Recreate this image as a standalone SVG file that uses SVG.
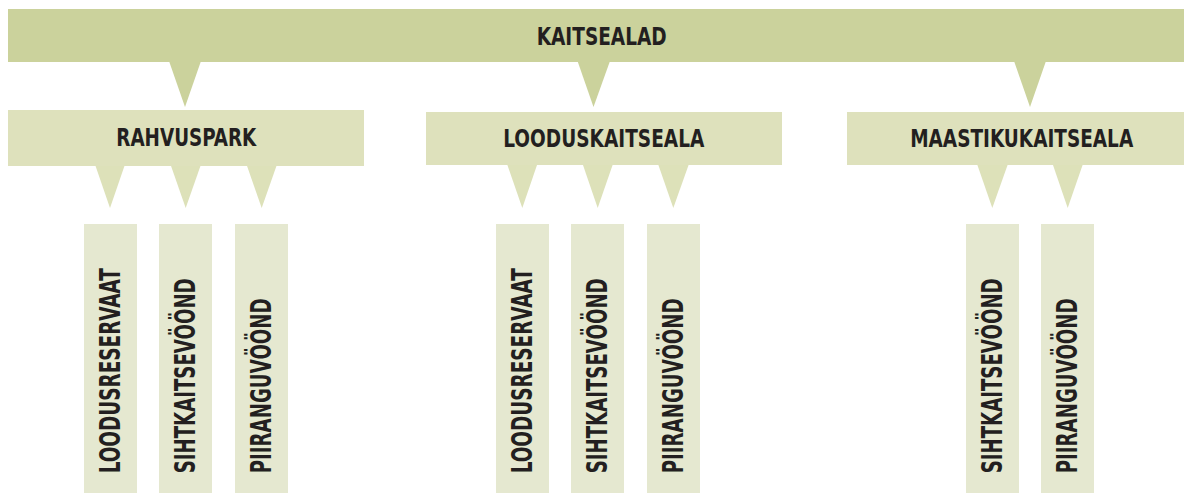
<svg xmlns="http://www.w3.org/2000/svg" width="1184" height="493" viewBox="0 0 1184 493">
<style>
.l0{fill:#cbd29c}
.l1{fill:#dee1bc}
.l2{fill:#e5e8d0}
.t1{fill:#dde1b9}
text{font-family:"Liberation Sans Narrow","DejaVu Sans Condensed","Liberation Sans",sans-serif;font-weight:bold;fill:#231f20;font-size:24px}
.v{font-size:28px}
</style>
<rect width="1184" height="493" fill="#ffffff"/>
<g id="connectors">
<polygon class="l0" points="169,61 201,61 185,107"/>
<polygon class="l0" points="577.5,61 610,61 593.5,107"/>
<polygon class="l0" points="1014,61 1046,61 1030,107"/>
<polygon class="t1" points="94.5,163 125.5,163 110,208"/>
<polygon class="t1" points="170,163 201.5,163 185.7,208"/>
<polygon class="t1" points="246,163 277.5,163 261.7,208"/>
<polygon class="t1" points="506.7,163 537.7,163 522.3,208"/>
<polygon class="t1" points="582.3,163 613.3,163 597.7,208"/>
<polygon class="t1" points="657.7,163 689.3,163 673.3,208"/>
<polygon class="t1" points="976.7,163 1008.3,163 992.3,208"/>
<polygon class="t1" points="1052.3,163 1083.3,163 1067.7,208"/>
</g>
<g id="kaitsealad">
<rect class="l0" x="8" y="9" width="1176" height="53"/>
<text x="601.7" y="44.5" text-anchor="middle" textLength="130" lengthAdjust="spacingAndGlyphs">KAITSEALAD</text>
</g>
<g id="rahvuspark">
<rect class="l1" x="8" y="110" width="356" height="56"/>
<text x="186.3" y="145.5" text-anchor="middle" textLength="140" lengthAdjust="spacingAndGlyphs">RAHVUSPARK</text>
</g>
<g id="looduskaitseala">
<rect class="l1" x="426" y="112" width="356" height="53"/>
<text x="603.8" y="146.7" text-anchor="middle" textLength="201" lengthAdjust="spacingAndGlyphs">LOODUSKAITSEALA</text>
</g>
<g id="maastikukaitseala">
<rect class="l1" x="847" y="112" width="337" height="53"/>
<text x="1021.7" y="146.7" text-anchor="middle" textLength="223" lengthAdjust="spacingAndGlyphs">MAASTIKUKAITSEALA</text>
</g>
<g id="rp-loodusreservaat">
<rect class="l2" x="84" y="224" width="53" height="269"/>
<text class="v" transform="translate(120,473.3) rotate(-90)" textLength="205" lengthAdjust="spacingAndGlyphs">LOODUSRESERVAAT</text>
</g>
<g id="rp-sihtkaitsevoond">
<rect class="l2" x="159" y="224" width="53" height="269"/>
<text class="v" transform="translate(195,473.3) rotate(-90)" textLength="195" lengthAdjust="spacingAndGlyphs">SIHTKAITSEVÖÖND</text>
</g>
<g id="rp-piiranguvoond">
<rect class="l2" x="235" y="224" width="53" height="269"/>
<text class="v" transform="translate(270.7,473.3) rotate(-90)" textLength="175" lengthAdjust="spacingAndGlyphs">PIIRANGUVÖÖND</text>
</g>
<g id="lk-loodusreservaat">
<rect class="l2" x="496" y="224" width="53" height="269"/>
<text class="v" transform="translate(532,473.3) rotate(-90)" textLength="205" lengthAdjust="spacingAndGlyphs">LOODUSRESERVAAT</text>
</g>
<g id="lk-sihtkaitsevoond">
<rect class="l2" x="571" y="224" width="53" height="269"/>
<text class="v" transform="translate(607,473.3) rotate(-90)" textLength="195" lengthAdjust="spacingAndGlyphs">SIHTKAITSEVÖÖND</text>
</g>
<g id="lk-piiranguvoond">
<rect class="l2" x="647" y="224" width="53" height="269"/>
<text class="v" transform="translate(682.7,473.3) rotate(-90)" textLength="175" lengthAdjust="spacingAndGlyphs">PIIRANGUVÖÖND</text>
</g>
<g id="mk-sihtkaitsevoond">
<rect class="l2" x="966" y="224" width="53" height="269"/>
<text class="v" transform="translate(1002,473.3) rotate(-90)" textLength="195" lengthAdjust="spacingAndGlyphs">SIHTKAITSEVÖÖND</text>
</g>
<g id="mk-piiranguvoond">
<rect class="l2" x="1041" y="224" width="53" height="269"/>
<text class="v" transform="translate(1077,473.3) rotate(-90)" textLength="175" lengthAdjust="spacingAndGlyphs">PIIRANGUVÖÖND</text>
</g>
</svg>
